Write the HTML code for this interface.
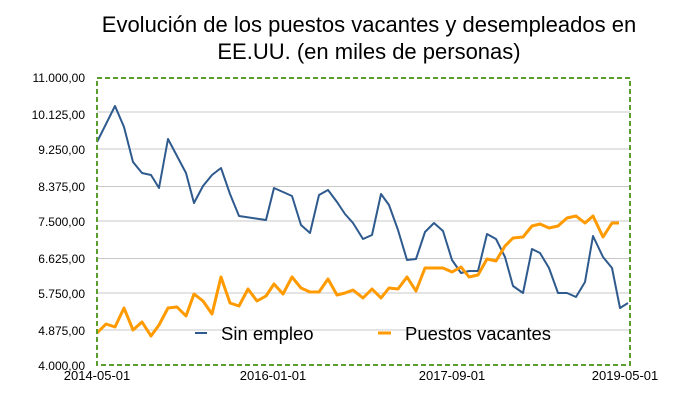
<!DOCTYPE html>
<html><head><meta charset="utf-8"><style>
body{margin:0;background:#fff;width:696px;height:403px;overflow:hidden}
svg{display:block;font-family:"Liberation Sans",sans-serif}
</style></head><body>
<svg width="696" height="403" viewBox="0 0 696 403">
<text x="369" y="32" font-size="22" text-anchor="middle">Evolución de los puestos vacantes y desempleados en</text>
<text x="369" y="59" font-size="22" text-anchor="middle">EE.UU. (en miles de personas)</text>
<g stroke="#c8c8c8" stroke-width="1">
<line x1="97" x2="630" y1="112" y2="112"/><line x1="97" x2="630" y1="149" y2="149"/>
<line x1="97" x2="630" y1="186.5" y2="186.5"/><line x1="97" x2="630" y1="221" y2="221"/>
<line x1="97" x2="630" y1="258.5" y2="258.5"/><line x1="97" x2="630" y1="293" y2="293"/>
<line x1="97" x2="630" y1="330" y2="330"/>
</g>
<g font-size="12" text-anchor="end">
<text x="85" y="82">11.000,00</text><text x="85" y="119">10.125,00</text>
<text x="85" y="154">9.250,00</text><text x="85" y="191">8.375,00</text>
<text x="85" y="226">7.500,00</text><text x="85" y="263">6.625,00</text>
<text x="85" y="298">5.750,00</text><text x="85" y="335">4.875,00</text>
<text x="85" y="370">4.000,00</text>
</g>
<g font-size="13" text-anchor="middle">
<text x="97" y="380">2014-05-01</text><text x="273" y="380">2016-01-01</text>
<text x="452" y="380">2017-09-01</text><text x="625" y="380">2019-05-01</text>
</g>
<polyline fill="none" stroke="#2e5a8e" stroke-width="2" stroke-linejoin="round" points="97,142 115,106 124,127 133,162 142,173 151,175 159,188 168,139 177,156 186,173 194,203 203,186 212,175 221,168 230,194 239,216 266,220 274,188 292,196 301,225 310,233 319,195 328,190 337,202 345,214 353,223 363,239 372,235 381,194 389,205 398,230 407,260 416,259 425,232 434,223 443,231 452,260 461,273 469,271 478,271 487,234 496,239 505,257 513,286 523,293 532,249 540,253 549,268 558,293 567,293 576,297 585,282 593,236 603,257 612,268 620,308 628,303"/>
<polyline fill="none" stroke="#ff9a00" stroke-width="3" stroke-linejoin="round" points="97,333 106,324 115,327 124,308 133,330 142,322 151,336 159,325 168,308 177,307 186,316 194,294 203,301 212,314 221,277 230,303 239,306 248,289 257,301 266,296 274,284 283,294 292,277 301,288 310,292 319,292 328,279 337,295 345,293 353,290 363,298 372,289 381,298 389,288 398,289 407,277 416,291 425,268 434,268 443,268 452,272 461,267 469,277 478,275 487,259 496,261 505,246 513,238 523,237 532,226 540,224 549,228 558,226 567,218 576,216 585,223 593,216 603,237 612,223 619,223"/>
<rect x="97" y="78" width="533" height="287" fill="none" stroke="#5a9e2e" stroke-width="2" stroke-dasharray="5,3"/>
<line x1="195" x2="207" y1="333" y2="333" stroke="#2e5a8e" stroke-width="2"/>
<text x="221" y="340" font-size="18.5">Sin empleo</text>
<line x1="378" x2="391" y1="333" y2="333" stroke="#ff9a00" stroke-width="3"/>
<text x="405" y="340" font-size="18.5">Puestos vacantes</text>
</svg>
</body></html>
